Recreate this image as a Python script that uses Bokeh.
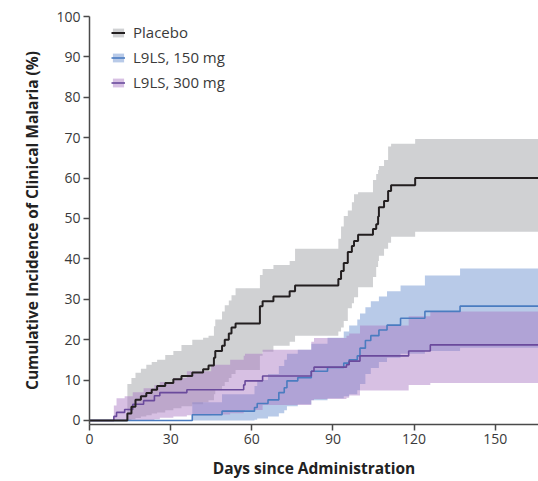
from bokeh.plotting import figure
from bokeh.models import Range1d, FixedTicker, Legend, LegendItem, ColumnDataSource
from bokeh.embed import file_html
from bokeh.resources import INLINE

# ---------------- data ----------------
x_end = 166

placebo_days  = [0, 14, 15.5, 17, 19, 21, 23, 25, 28, 31, 34, 38, 42, 44, 46, 46.5, 49, 50, 51.5, 52.5, 54,
                 63, 64, 68, 74, 76, 92, 93, 94, 95.5, 97, 97.8, 99.3, 104.8, 106, 106.7, 107, 108.9, 110.4,
                 111.5, 120.4, 166]
placebo_est   = [0, 1.7, 3.4, 5.1, 6.0, 6.8, 7.6, 8.5, 9.3, 10.2, 11.0, 11.9, 12.7, 13.6, 15.5, 17.2, 18.5, 20.0,
                 21.5, 23.0, 24.0, 28.3, 29.5, 30.7, 32.0, 33.4, 35.0, 37.0, 39.0, 41.7, 43.2, 44.4, 46.0, 47.4,
                 48.6, 50.5, 52.8, 54.3, 56.8, 58.2, 60.0, 60.0]
placebo_lower = [0, 0, 0.3, 0.6, 1.0, 1.3, 1.7, 2.0, 2.5, 3.0, 3.5, 4.0, 4.5, 5.0, 6.5, 7.5, 8.5, 9.5, 10.5,
                 11.5, 12.5, 16.0, 17.0, 18.5, 19.5, 21.0, 22.0, 23.0, 24.6, 27.8, 29.0, 30.5, 33.0, 35.5, 38.0,
                 39.5, 40.8, 42.5, 44.0, 45.5, 46.7, 46.7]
placebo_upper = [0, 9.0, 10.5, 11.8, 12.8, 13.8, 14.5, 15.0, 16.2, 17.2, 18.7, 20.0, 20.5, 21.0, 23.3, 25.0,
                 27.0, 28.5, 29.7, 31.0, 32.7, 36.0, 37.5, 38.5, 39.5, 42.5, 45.0, 48.0, 50.6, 52.0, 54.0, 56.0,
                 56.5, 59.5, 61.0, 62.0, 63.0, 64.5, 67.8, 68.5, 69.7, 69.7]

l150_days  = [0, 38, 49, 61, 62, 66, 70, 72, 73, 77, 82, 88, 94, 96, 99, 100, 102, 104, 107, 110, 115, 124,
              137, 166]
l150_est   = [0, 1.4, 2.3, 3.2, 4.2, 5.1, 6.9, 8.1, 9.8, 10.6, 12.2, 13.1, 14.2, 15.0, 16.0, 17.9, 19.8, 21.0,
              22.4, 23.6, 25.3, 27.0, 28.3, 28.3]
l150_lower = [0, 0, 0, 0.2, 0.5, 1.0, 1.8, 2.5, 3.5, 4.0, 5.0, 5.5, 6.0, 6.5, 7.5, 9.0, 11.5, 13.0, 14.5,
              15.5, 16.5, 17.2, 18.0, 18.0]
l150_upper = [0, 4.5, 6.5, 8.5, 10.0, 11.5, 13.5, 15.0, 16.5, 17.5, 19.0, 20.5, 22.0, 23.5, 25.0, 26.5, 28.0,
              29.5, 30.7, 32.0, 33.4, 35.9, 37.6, 37.6]

l300_days  = [0, 9, 10, 13, 16, 20, 24, 26, 31, 36, 45, 52, 57, 57.5, 64, 82, 83, 95, 96, 100, 118, 126, 166]
l300_est   = [0, 1.0, 2.0, 2.7, 4.0, 4.9, 6.1, 6.9, 6.9, 7.6, 7.6, 7.6, 8.8, 9.8, 11.0, 12.2, 13.2, 13.8, 14.7,
              16.0, 17.2, 18.7, 18.7]
l300_lower = [0, 0, 0, 0, 0, 0, 0.3, 0.7, 1.0, 1.3, 1.5, 1.8, 2.2, 2.6, 3.8, 5.0, 5.3, 5.6, 6.2, 7.4, 8.8,
              9.3, 9.3]
l300_upper = [0, 3.7, 5.5, 6.0, 7.0, 8.0, 8.8, 9.5, 10.5, 12.2, 13.8, 15.0, 16.0, 16.5, 17.5, 19.5, 20.4,
              21.0, 21.5, 23.5, 25.8, 27.0, 27.0]

labels = ["Placebo", "L9LS, 150 mg", "L9LS, 300 mg"]
x_ticks = [0, 30, 60, 90, 120, 150]
y_ticks = [0, 10, 20, 30, 40, 50, 60, 70, 80, 90, 100]

# ---------------- figure ----------------
FONT = "Open Sans"
TXT = "#3a3a3a"

p = figure(width=538, height=481, output_backend="svg", toolbar_location=None,
           x_range=Range1d(0, x_end), y_range=Range1d(-1, 100),
           min_border_left=89, min_border_right=0, min_border_top=16, min_border_bottom=54,
           background_fill_color="white", border_fill_color="white")
p.outline_line_color = None
p.grid.visible = False

groups = [
    (placebo_days, placebo_est, placebo_lower, placebo_upper, "#d0d1d3", 1.0, "#231f20", 2.0),
    (l150_days, l150_est, l150_lower, l150_upper, "#7d9fd6", 0.55, "#4a7cc0", 1.6),
    (l300_days, l300_est, l300_lower, l300_upper, "#a674c2", 0.45, "#6a4a9c", 1.6),
]

bands = []
for d, e, lo, up, fc, fa, lc, lw in groups:
    src = ColumnDataSource(dict(x=d, est=e, lo=lo, up=up))
    b = p.varea_step(x="x", y1="lo", y2="up", source=src, step_mode="after",
                     fill_color=fc, fill_alpha=fa)
    bands.append(b)
lines = []
for d, e, lo, up, fc, fa, lc, lw in [groups[1], groups[2], groups[0]]:
    src = ColumnDataSource(dict(x=d, est=e))
    l = p.step(x="x", y="est", source=src, mode="after", line_color=lc, line_width=lw)
    lines.append(l)
line_map = [lines[2], lines[0], lines[1]]

items = [LegendItem(label=labels[i], renderers=[bands[i], line_map[i]]) for i in range(3)]
legend = Legend(items=items, location=(22, 332), orientation="vertical",
                glyph_width=14, glyph_height=11, label_height=20, spacing=5, padding=0, margin=0,
                label_standoff=8, label_text_font=FONT, label_text_font_size="15px",
                label_text_color=TXT, border_line_alpha=0, background_fill_alpha=0)
p.add_layout(legend)

# axes
for ax in (p.xaxis[0], p.yaxis[0]):
    ax.axis_line_color = "#4a4a4a"
    ax.axis_line_width = 1.5
    ax.major_tick_line_color = "#4a4a4a"
    ax.major_tick_line_width = 1.5
    ax.major_tick_out = 6
    ax.major_tick_in = 0
    ax.minor_tick_line_color = None
    ax.major_label_text_font = FONT
    ax.major_label_text_font_size = "14px"
    ax.major_label_text_color = TXT
    ax.major_label_standoff = 3
    ax.axis_label_text_font = FONT
    ax.axis_label_text_font_style = "bold"
    ax.axis_label_text_font_size = "15.5px"
    ax.axis_label_text_color = "#222222"

p.xaxis[0].ticker = FixedTicker(ticks=x_ticks)
p.yaxis[0].ticker = FixedTicker(ticks=y_ticks)
p.xaxis[0].axis_label = "Days since Administration"
p.yaxis[0].axis_label = "Cumulative Incidence of Clinical Malaria (%)"
p.xaxis[0].axis_label_standoff = 10
p.yaxis[0].axis_label_standoff = 10

open("out.html", "w").write(file_html(p, INLINE))
